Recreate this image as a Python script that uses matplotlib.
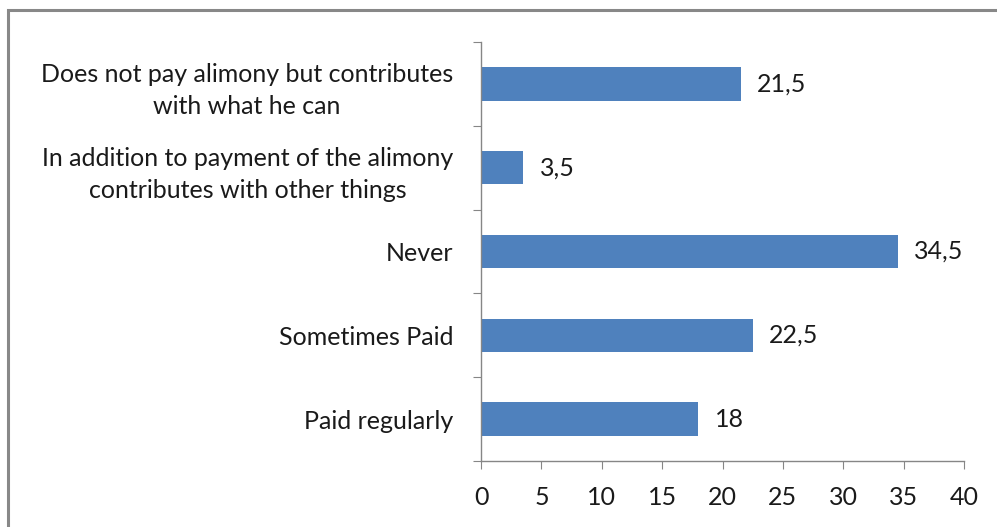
import matplotlib.pyplot as plt
from matplotlib.patches import Rectangle

plt.rcParams['font.family'] = ['Lato', 'DejaVu Sans']

categories = ['Paid regularly', 'Sometimes Paid', 'Never',
              'In addition to payment of the alimony\ncontributes with other things',
              'Does not pay alimony but contributes\nwith what he can']
values = [18, 22.5, 34.5, 3.5, 21.5]
value_labels = ['18', '22,5', '34,5', '3,5', '21,5']
xticks = [0, 5, 10, 15, 20, 25, 30, 35, 40]

FS = 18
TXT = '#1a1a1a'

fig = plt.figure(figsize=(9.97, 5.27), dpi=100)
fig.patches.append(Rectangle((8 / 997, -0.1), 1.1, 1 - 10 / 527 + 0.1, transform=fig.transFigure,
                             fill=False, edgecolor='#888888', linewidth=2.2))
ax = fig.add_axes([481 / 997, 1 - 461 / 527, (964 - 481) / 997, (461 - 42) / 527])

pos = list(range(len(categories)))
ax.barh(pos, values, height=0.4, color='#4F81BD')
for p, v, lab in zip(pos, values, value_labels):
    ax.annotate(lab, (v, p), xytext=(12, 0), textcoords='offset points',
                va='center', ha='left', fontsize=FS, color=TXT)

ax.set_xlim(0, 40)
ax.set_ylim(-0.5, len(categories) - 0.5)
ax.set_xticks(xticks)
ax.set_xticklabels([str(t) for t in xticks])
ax.set_yticks([p + 0.5 for p in range(-1, len(categories))])
ax.set_yticklabels([])
ax.set_yticks(pos, minor=True)
ax.set_yticklabels(categories, minor=True, ha='right', multialignment='center', linespacing=1.5)
ax.tick_params(axis='y', which='minor', length=0, pad=20, labelsize=FS, labelcolor=TXT)
ax.tick_params(axis='y', which='major', length=6, color='#868686', direction='out')
ax.tick_params(axis='x', length=6, color='#868686', direction='out', pad=12, labelsize=FS,
               labelcolor=TXT)

for s in ['top', 'right']:
    ax.spines[s].set_visible(False)
for s in ['left', 'bottom']:
    ax.spines[s].set_color('#868686')
    ax.spines[s].set_linewidth(1.0)

fig.savefig('out.png', dpi=100)
